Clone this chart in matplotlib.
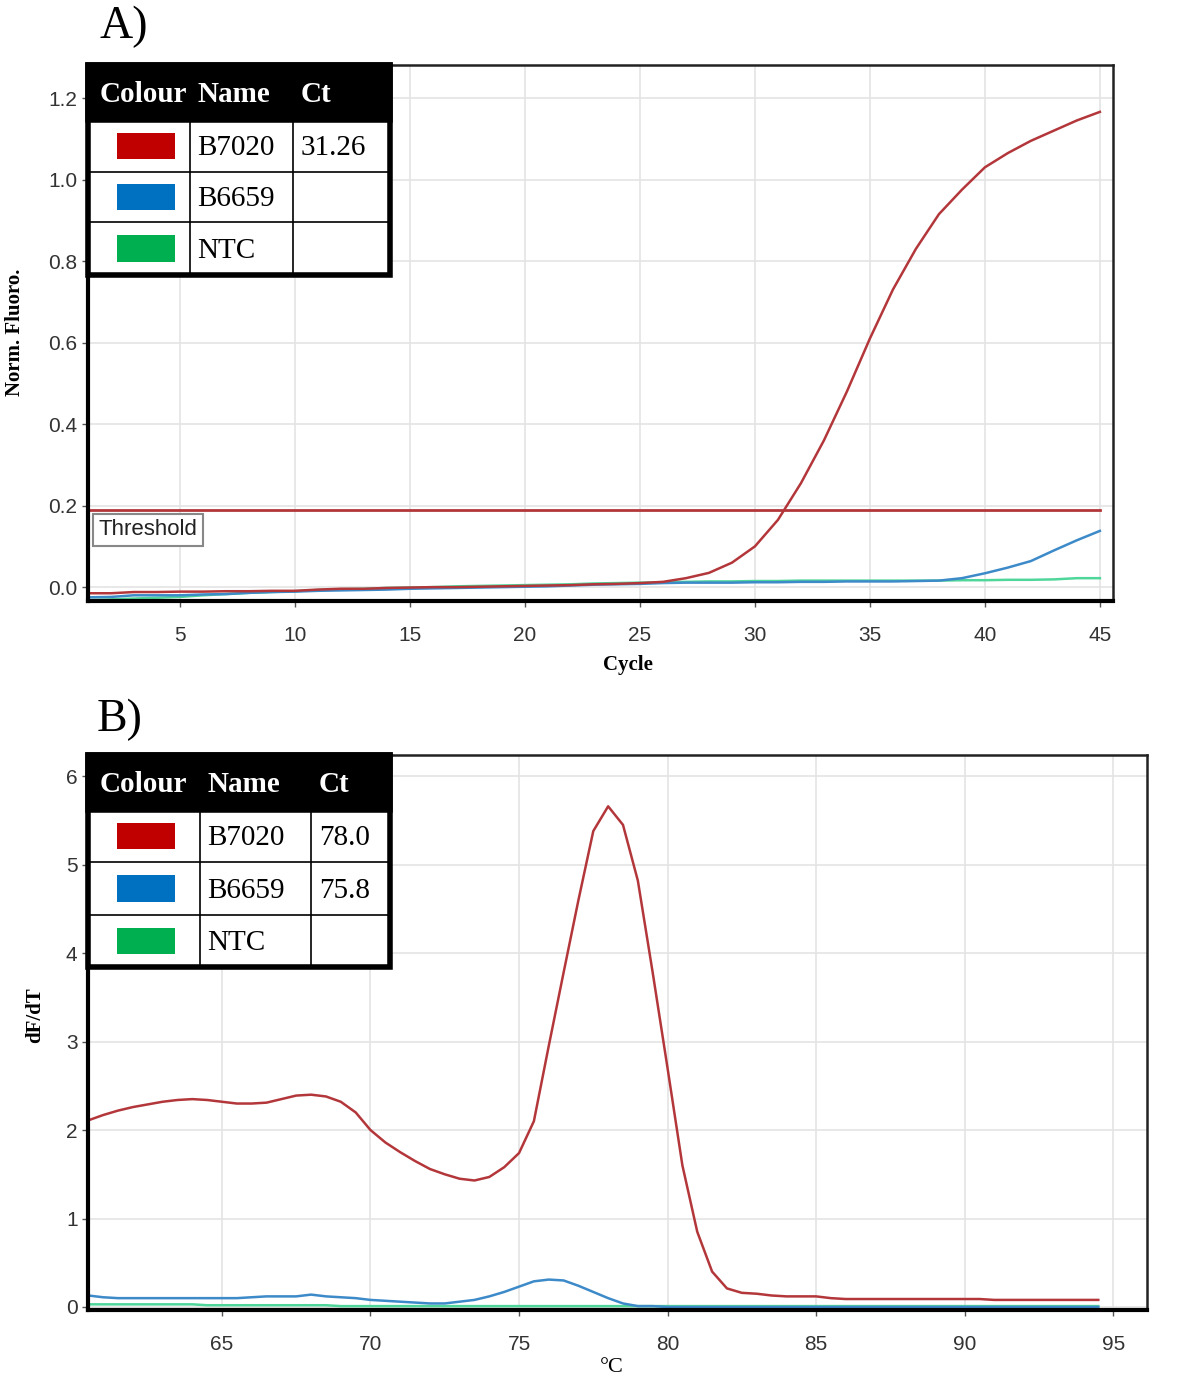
import numpy as np
import matplotlib
matplotlib.use("Agg")
import matplotlib.pyplot as plt
from matplotlib.patches import Rectangle

W, H = 1181, 1385

# ---- panel A: amplification curves ----
cycles = list(range(1, 46))
red_a = [-0.015, -0.015, -0.012, -0.012, -0.011, -0.011, -0.010, -0.010, -0.009, -0.009,
         -0.006, -0.004, -0.004, -0.002, -0.001, 0.000, 0.000, 0.001, 0.002, 0.003,
         0.004, 0.005, 0.007, 0.008, 0.010, 0.013, 0.022, 0.035, 0.060, 0.100,
         0.165, 0.255, 0.360, 0.480, 0.610, 0.730, 0.830, 0.915, 0.975, 1.030,
         1.065, 1.095, 1.120, 1.145, 1.166]
blue_a = [-0.025, -0.024, -0.020, -0.020, -0.020, -0.018, -0.017, -0.014, -0.012, -0.011,
          -0.009, -0.008, -0.007, -0.006, -0.004, -0.003, -0.002, -0.001, 0.000, 0.001,
          0.002, 0.004, 0.006, 0.007, 0.008, 0.010, 0.011, 0.011, 0.011, 0.012,
          0.012, 0.013, 0.013, 0.014, 0.014, 0.014, 0.015, 0.016, 0.022, 0.034,
          0.048, 0.064, 0.090, 0.115, 0.138]
green_a = [-0.032, -0.030, -0.028, -0.026, -0.024, -0.020, -0.017, -0.014, -0.012, -0.010,
           -0.007, -0.005, -0.004, -0.002, -0.001, 0.000, 0.002, 0.003, 0.004, 0.005,
           0.006, 0.007, 0.009, 0.010, 0.011, 0.012, 0.013, 0.014, 0.014, 0.015,
           0.015, 0.016, 0.016, 0.016, 0.016, 0.016, 0.016, 0.016, 0.017, 0.017,
           0.018, 0.018, 0.019, 0.022, 0.022]
threshold = 0.189

# ---- panel B: melt curves ----
temps = np.arange(60.5, 94.75, 0.5)
red_b = [2.11, 2.17, 2.22, 2.26, 2.29, 2.32, 2.34, 2.35, 2.34, 2.32,
         2.30, 2.30, 2.31, 2.35, 2.39, 2.40, 2.38, 2.32, 2.20, 2.00,
         1.86, 1.75, 1.65, 1.56, 1.50, 1.45, 1.43, 1.47, 1.58, 1.74,
         2.10, 2.95, 3.78, 4.60, 5.38, 5.66, 5.45, 4.82, 3.78, 2.70,
         1.60, 0.85, 0.40, 0.21, 0.16, 0.15, 0.13, 0.12, 0.12, 0.12,
         0.10, 0.09, 0.09, 0.09, 0.09, 0.09, 0.09, 0.09, 0.09, 0.09,
         0.09, 0.08, 0.08, 0.08, 0.08, 0.08, 0.08, 0.08, 0.08]
blue_b = [0.13, 0.11, 0.10, 0.10, 0.10, 0.10, 0.10, 0.10, 0.10, 0.10,
          0.10, 0.11, 0.12, 0.12, 0.12, 0.14, 0.12, 0.11, 0.10, 0.08,
          0.07, 0.06, 0.05, 0.04, 0.04, 0.06, 0.08, 0.12, 0.17, 0.23,
          0.29, 0.31, 0.30, 0.24, 0.17, 0.10, 0.04, 0.01, 0.01, 0.00,
          0.00, 0.00, 0.00, 0.00, 0.00, 0.00, 0.00, 0.00, 0.00, 0.00,
          0.00, 0.00, 0.00, 0.00, 0.00, 0.00, 0.00, 0.00, 0.00, 0.00,
          0.00, 0.00, 0.00, 0.00, 0.00, 0.00, 0.00, 0.00, 0.00]
green_b = [0.03, 0.03, 0.03, 0.03, 0.03, 0.03, 0.03, 0.03, 0.02, 0.02,
           0.02, 0.02, 0.02, 0.02, 0.02, 0.02, 0.02, 0.01, 0.01, 0.01,
           0.01, 0.01, 0.01, 0.01, 0.01, 0.01, 0.01, 0.01, 0.01, 0.01,
           0.01, 0.01, 0.01, 0.01, 0.01, 0.01, 0.01, 0.01, 0.01, 0.01,
           0.01, 0.01, 0.01, 0.01, 0.01, 0.01, 0.01, 0.01, 0.01, 0.01,
           0.01, 0.01, 0.01, 0.01, 0.01, 0.01, 0.01, 0.01, 0.01, 0.01,
           0.01, 0.01, 0.01, 0.01, 0.01, 0.01, 0.01, 0.01, 0.01]

names = ["B7020", "B6659", "NTC"]
ct_a = ["31.26", "", ""]
ct_b = ["78.0", "75.8", ""]
swatch_colors = ["#c00000", "#0070c0", "#00b050"]
line_colors = ["#b3373a", "#3d8ac9", "#4fd69a"]

SERIF = "Liberation Serif"
SANS = "Liberation Sans"


def fx(px):
    return px / W


def fy(py):
    return 1 - py / H


def style_axes(ax):
    ax.grid(True, color="#e4e4e4", lw=1.2)
    ax.set_axisbelow(True)
    for side in ["left", "bottom"]:
        ax.spines[side].set_linewidth(3)
        ax.spines[side].set_color("black")
    for side in ["top", "right"]:
        ax.spines[side].set_linewidth(1.8)
        ax.spines[side].set_color("#222222")
    ax.tick_params(labelsize=15, colors="#555555", labelcolor="#333333", length=4, width=1)
    ax.tick_params(axis="x", pad=14)
    for lab in ax.get_xticklabels() + ax.get_yticklabels():
        lab.set_fontfamily(SANS)


def draw_table(fig, x0, x1, y0, yh, ys, cols, ct):
    # outer frame and header in pixel coordinates
    fig.patches.append(Rectangle((fx(x0), fy(ys[-1])), fx(x1) - fx(x0), fy(y0) - fy(ys[-1]),
                                 transform=fig.transFigure, facecolor="white",
                                 edgecolor="black", lw=4, zorder=5))
    fig.patches.append(Rectangle((fx(x0), fy(yh)), fx(x1) - fx(x0), fy(y0) - fy(yh),
                                 transform=fig.transFigure, facecolor="black",
                                 edgecolor="black", lw=4, zorder=6))
    for yy in ys[1:-1]:
        fig.lines.append(plt.Line2D([fx(x0), fx(x1)], [fy(yy), fy(yy)],
                                    transform=fig.transFigure, color="black", lw=1.2, zorder=7))
    for xx in cols[1:]:
        fig.lines.append(plt.Line2D([fx(xx), fx(xx)], [fy(yh), fy(ys[-1])],
                                    transform=fig.transFigure, color="black", lw=1.2, zorder=7))
    hy = (y0 + yh) / 2 + 2
    for txt, xx in zip(["Colour", "Name", "Ct"], [x0 + 12, cols[1] + 8, cols[2] + 8]):
        fig.text(fx(xx), fy(hy), txt, color="white", fontsize=21, fontweight="bold",
                 family=SERIF, va="center", ha="left", zorder=8)
    for i in range(3):
        top, bot = ys[i], ys[i + 1]
        cy = (top + bot) / 2
        fig.patches.append(Rectangle((fx(117), fy(cy + 13)), fx(58), fy(cy - 13) - fy(cy + 13),
                                     transform=fig.transFigure, facecolor=swatch_colors[i],
                                     edgecolor="none", zorder=8))
        fig.text(fx(cols[1] + 7), fy(cy + 2), names[i], fontsize=21, family=SERIF,
                 va="center", ha="left", zorder=8)
        fig.text(fx(cols[2] + 8), fy(cy + 2), ct[i], fontsize=21, family=SERIF,
                 va="center", ha="left", zorder=8)


fig = plt.figure(figsize=(W / 100, H / 100), dpi=100)

# ---- panel A ----
axA = fig.add_axes([fx(88), fy(601), fx(1113) - fx(88), fy(65) - fy(601)])
axA.plot(cycles, green_a, color=line_colors[2], lw=1.8)
axA.plot(cycles, blue_a, color=line_colors[1], lw=1.8)
axA.plot(cycles, red_a, color=line_colors[0], lw=1.8)
axA.axhline(threshold, xmin=0, xmax=0.987, color="#b3373a", lw=2)
axA.set_xlim(1, 45.57)
axA.set_ylim(-0.034, 1.281)
axA.set_xticks(range(5, 46, 5))
axA.set_yticks(np.arange(0, 1.21, 0.2))
axA.set_yticklabels([f"{v:.1f}" for v in np.arange(0, 1.21, 0.2)])
style_axes(axA)
axA.text(0.01, threshold - 0.022, "Threshold", transform=axA.get_yaxis_transform(),
         fontsize=16, family=SANS, va="top", ha="left", color="#222222",
         bbox=dict(boxstyle="square,pad=0.25", facecolor="white", edgecolor="#888888", lw=1.5))

draw_table(fig, 88, 390, 65, 120, [120, 172, 222, 275], [88, 190, 293], ct_a)

fig.text(fx(124), fy(27), "A)", fontsize=33, family=SERIF, ha="center", va="center")
fig.text(fx(15), fy(332), "Norm. Fluoro.", fontsize=15, fontweight="bold", family=SERIF,
         rotation=90, ha="center", va="center")
fig.text(fx(628), fy(665), "Cycle", fontsize=15, fontweight="bold", family=SERIF,
         ha="center", va="center")

# ---- panel B ----
axB = fig.add_axes([fx(88), fy(1310), fx(1147) - fx(88), fy(755) - fy(1310)])
axB.plot(temps, green_b, color=line_colors[2], lw=1.8)
axB.plot(temps, blue_b, color=line_colors[1], lw=1.8)
axB.plot(temps, red_b, color=line_colors[0], lw=1.8)
axB.set_xlim(60.49, 96.14)
axB.set_ylim(-0.034, 6.24)
axB.set_xticks(range(65, 96, 5))
axB.set_yticks(range(0, 7))
style_axes(axB)

draw_table(fig, 88, 390, 755, 810, [810, 862, 915, 967], [88, 200, 311], ct_b)

fig.text(fx(120), fy(720), "B)", fontsize=33, family=SERIF, ha="center", va="center")
fig.text(fx(35), fy(1015), "dF/dT", fontsize=15, fontweight="bold", family=SERIF,
         rotation=90, ha="center", va="center")
fig.text(fx(612), fy(1368), "°C", fontsize=16, family=SERIF, ha="center", va="center")

fig.savefig("out.png", dpi=100)
